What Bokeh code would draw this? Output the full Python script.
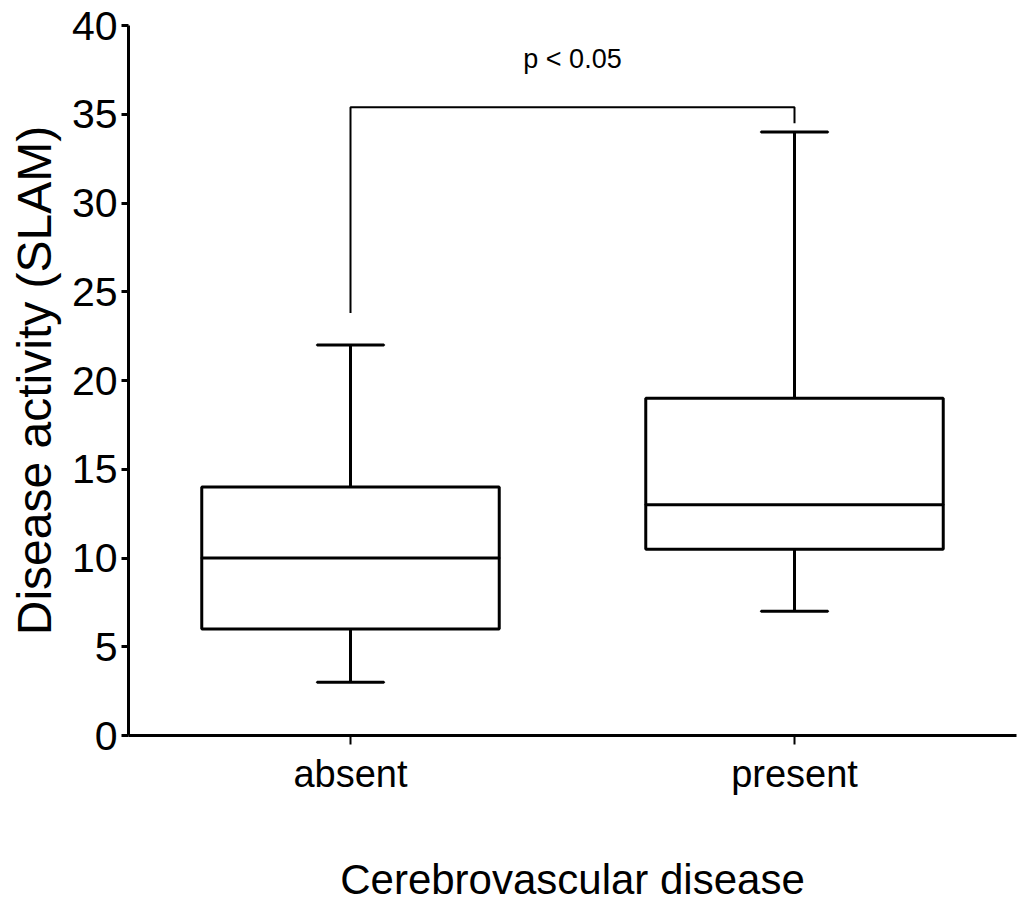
from bokeh.plotting import figure
from bokeh.models import FactorRange, Range1d, FixedTicker, Label
from bokeh.embed import file_html
from bokeh.resources import INLINE

# ---- data ----
groups = ["absent", "present"]
whisker_low = [3, 7]
q1 = [6, 10.5]
median = [10, 13]
q3 = [14, 19]
whisker_high = [22, 34]

bracket_x = ["absent", "absent", "present", "present"]
bracket_y = [23.8, 35.4, 35.4, 34.5]
p_text = "p < 0.05"
p_text_y = 38.1

y_ticks = [0, 5, 10, 15, 20, 25, 30, 35, 40]

FONT = "Liberation Sans"

p = figure(
    width=1018, height=905,
    x_range=FactorRange(factors=groups, range_padding=0),
    y_range=Range1d(0, 40),
    output_backend="svg", toolbar_location=None,
    min_border_top=25, min_border_right=2, min_border_left=128, min_border_bottom=10,
)
p.outline_line_color = None
p.xgrid.grid_line_color = None
p.ygrid.grid_line_color = None
p.background_fill_color = "white"
p.border_fill_color = "white"

BOX_W = 0.67
CAP_W = 0.15
LW = 3

# whisker stems
p.segment(x0=groups, y0=whisker_low, x1=groups, y1=q1, line_color="black", line_width=LW)
p.segment(x0=groups, y0=q3, x1=groups, y1=whisker_high, line_color="black", line_width=LW)
# caps
p.rect(x=groups, y=whisker_low, width=CAP_W, height=0.0001, fill_color=None,
       line_color="black", line_width=LW)
p.rect(x=groups, y=whisker_high, width=CAP_W, height=0.0001, fill_color=None,
       line_color="black", line_width=LW)
# boxes
p.vbar(x=groups, bottom=q1, top=q3, width=BOX_W, fill_color="white",
       line_color="black", line_width=LW)
# medians
p.rect(x=groups, y=median, width=BOX_W, height=0.0001, fill_color=None,
       line_color="black", line_width=LW)

# significance bracket
p.line(x=bracket_x, y=bracket_y, line_color="black", line_width=2)
p.add_layout(Label(x=1.0, y=p_text_y, text=p_text, text_align="center",
                   text_baseline="middle", text_font=FONT, text_font_size="27px",
                   text_color="black"))

# axes
p.yaxis.ticker = FixedTicker(ticks=y_ticks)
p.yaxis.minor_tick_line_color = None
p.yaxis.axis_line_width = LW
p.yaxis.major_tick_line_width = LW
p.yaxis.major_tick_out = 7
p.yaxis.major_tick_in = 0
p.yaxis.major_label_text_font = FONT
p.yaxis.major_label_text_font_size = "41px"
p.yaxis.major_label_text_color = "black"
p.yaxis.major_label_standoff = 4
p.yaxis.axis_label = "Disease activity (SLAM)"
p.yaxis.axis_label_text_font = FONT
p.yaxis.axis_label_text_font_size = "48px"
p.yaxis.axis_label_text_font_style = "normal"
p.yaxis.axis_label_text_color = "black"
p.yaxis.axis_label_standoff = 8

p.xaxis.axis_line_width = LW
p.xaxis.major_tick_line_width = 2
p.xaxis.major_tick_out = 9
p.xaxis.major_tick_in = 0
p.xaxis.major_label_text_font = FONT
p.xaxis.major_label_text_font_size = "38px"
p.xaxis.major_label_text_color = "black"
p.xaxis.major_label_standoff = 8
p.xaxis.axis_label = "Cerebrovascular disease"
p.xaxis.axis_label_text_font = FONT
p.xaxis.axis_label_text_font_size = "42px"
p.xaxis.axis_label_text_font_style = "normal"
p.xaxis.axis_label_text_color = "black"
p.xaxis.axis_label_standoff = 58

open("out.html", "w").write(file_html(p, INLINE))
